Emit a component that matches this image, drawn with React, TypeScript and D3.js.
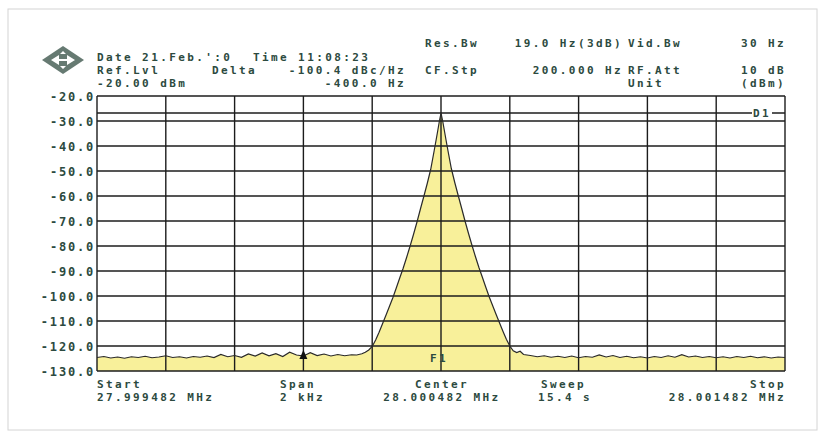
import React from 'react'
import * as d3 from 'd3'

// offsets from the centre frequency (Hz) and level (dBm)
const noiseLeft: [number, number][] = [
  [-1000, -124.6], [-980, -124.2], [-960, -124.8], [-940, -124.4], [-920, -124.9],
  [-900, -124.3], [-880, -124.6], [-860, -124.1], [-840, -124.7], [-820, -124.4],
  [-800, -123.9], [-780, -124.6], [-760, -124.3], [-740, -124.8], [-720, -124.2],
  [-700, -124.5], [-680, -124.0], [-660, -124.6], [-640, -123.4], [-620, -124.3],
  [-600, -123.8], [-580, -124.5], [-560, -123.2], [-540, -124.0], [-520, -122.8],
  [-500, -123.9], [-480, -123.1], [-460, -124.2], [-440, -122.5], [-420, -123.6],
  [-400, -124.0], [-380, -122.7], [-360, -123.8], [-340, -123.2], [-320, -124.0],
  [-300, -123.4], [-280, -123.9], [-260, -123.5],
]

const peak: [number, number][] = [
  [-245, -123.6], [-230, -123.1], [-220, -122.5], [-210, -121.6], [-200, -120.2],
  [-190, -117.6], [-180, -114.5], [-170, -111.1], [-160, -107.7], [-150, -104.2],
  [-140, -100.7], [-130, -96.8], [-120, -92.8], [-110, -88.9], [-100, -84.6],
  [-90, -80.1], [-80, -75.4], [-70, -70.5], [-60, -65.3], [-50, -60.2],
  [-40, -55.0], [-30, -49.4], [-20, -42.0], [-15, -38.2], [-10, -34.3],
  [-5, -30.3], [0, -26.8], [5, -30.1], [10, -34.0], [15, -37.9],
  [20, -41.7], [30, -49.0], [40, -54.6], [50, -59.8], [60, -64.9],
  [70, -70.1], [80, -75.0], [90, -79.7], [100, -84.2], [110, -88.5],
  [120, -92.4], [130, -96.4], [140, -100.3], [150, -103.8], [160, -107.3],
  [170, -110.7], [180, -114.1], [190, -117.3], [200, -120.0], [210, -121.9],
  [220, -122.6], [230, -122.1], [240, -123.4],
]

const noiseRight: [number, number][] = [
  [260, -123.8], [280, -124.3], [300, -123.9], [320, -124.5], [340, -124.1],
  [360, -124.6], [380, -124.0], [400, -124.7], [420, -124.2], [440, -124.5],
  [460, -123.6], [480, -124.4], [500, -123.8], [520, -124.6], [540, -124.1],
  [560, -124.7], [580, -124.3], [600, -124.8], [620, -124.2], [640, -124.6],
  [660, -123.9], [680, -124.5], [700, -123.5], [720, -124.4], [740, -124.0],
  [760, -124.6], [780, -124.2], [800, -124.7], [820, -124.3], [840, -124.8],
  [860, -124.2], [880, -124.6], [900, -124.1], [920, -124.7], [940, -124.3],
  [960, -124.8], [980, -124.4], [1000, -124.6],
]

const trace = [...noiseLeft, ...peak, ...noiseRight]

const xGridHz = [-1000, -800, -600, -400, -200, 0, 200, 400, 600, 800, 1000]
const yTicks = [-20, -30, -40, -50, -60, -70, -80, -90, -100, -110, -120, -130]
const yTickLabels = ['-20.0', '-30.0', '-40.0', '-50.0', '-60.0', '-70.0', '-80.0', '-90.0', '-100.0', '-110.0', '-120.0', '-130.0']
const displayLine = -26.8
const deltaMarkerHz = -400
const deltaMarkerDb = -124.0

const W = 825
const H = 438

export default function App() {
  const x = d3.scaleLinear().domain([-1000, 1000]).range([97, 785])
  const y = d3.scaleLinear().domain([-130, -20]).range([371, 96])

  const line = d3.line<[number, number]>().x(d => x(d[0])).y(d => y(d[1]))
  const area = d3.area<[number, number]>().x(d => x(d[0])).y0(y(-130)).y1(d => y(d[1]))

  const ink = '#2c4a40'
  const font = {
    fontFamily: '"DejaVu Sans Mono", monospace',
    fontWeight: 'bold' as const,
    fontSize: 11,
    letterSpacing: 2.4,
    fill: ink,
  }
  const axisFont = { ...font, fontSize: 12, letterSpacing: 1.8 }

  const mx = x(deltaMarkerHz)
  const my = y(deltaMarkerDb)

  return (
    <svg width={W} height={H} style={{ position: 'absolute', left: 0, top: 0, background: '#fff' }}>
      <rect x={0} y={0} width={W} height={H} fill="#fff" />
      <rect x={8} y={9} width={809} height={421} fill="none" stroke="#d4d4d4" strokeWidth={1} />

      {/* logo */}
      <g transform="translate(63,60)">
        <polygon points="-21,0 0,-14 21,0 0,14" fill="#667a72" />
        <path d="M-12,0 L-4,-5 L-4,-1 L4,-1 L4,-5 L12,0 L4,5 L4,1 L-4,1 L-4,5 Z" fill="#fff" />
        <path d="M0,-9 L3,-6 L-3,-6 Z M0,9 L3,6 L-3,6 Z" fill="#fff" />
      </g>

      {/* header */}
      <g style={font}>
        <text x={97} y={61}>Date 21.Feb.':0</text>
        <text x={253} y={61}>Time 11:08:23</text>
        <text x={97} y={74}>Ref.Lvl</text>
        <text x={212} y={74}>Delta</text>
        <text x={406} y={74} textAnchor="end">-100.4 dBc/Hz</text>
        <text x={97} y={87}>-20.00 dBm</text>
        <text x={406} y={87} textAnchor="end">-400.0 Hz</text>

        <text x={425} y={47}>Res.Bw</text>
        <text x={623} y={47} textAnchor="end">19.0 Hz(3dB)</text>
        <text x={628} y={47}>Vid.Bw</text>
        <text x={786} y={47} textAnchor="end">30 Hz</text>
        <text x={425} y={74}>CF.Stp</text>
        <text x={623} y={74} textAnchor="end">200.000 Hz</text>
        <text x={628} y={74}>RF.Att</text>
        <text x={786} y={74} textAnchor="end">10 dB</text>
        <text x={628} y={87}>Unit</text>
        <text x={786} y={87} textAnchor="end">(dBm)</text>
      </g>

      {/* trace fill */}
      <path d={area(trace) ?? ''} fill="#f8f09a" />

      {/* grid */}
      <g stroke="#1c1c1c" strokeWidth={1.4}>
        {xGridHz.map(f => (
          <line key={f} x1={x(f)} x2={x(f)} y1={y(-20)} y2={y(-130)} />
        ))}
        {yTicks.map(v => (
          <line key={v} x1={x(-1000)} x2={x(1000)} y1={y(v)} y2={y(v)} />
        ))}
        <line x1={x(-1000)} x2={x(1000)} y1={y(displayLine)} y2={y(displayLine)} />
      </g>

      <path d={line(trace) ?? ''} fill="none" stroke="#2a2a2a" strokeWidth={1.2} />

      {/* D1 label */}
      <rect x={752} y={y(displayLine) - 6} width={20} height={12} fill="#fff" />
      <text x={753} y={y(displayLine) + 4} style={font}>D1</text>

      {/* F1 label */}
      <text x={430} y={362} style={font}>F1</text>

      {/* delta marker */}
      <polygon points={`${mx},${my - 6} ${mx - 4},${my + 3} ${mx + 4},${my + 3}`} fill="#111" />

      {/* y labels */}
      <g style={axisFont}>
        {yTicks.map((v, i) => (
          <text key={v} x={95} y={y(v) + 4.5} textAnchor="end">{yTickLabels[i]}</text>
        ))}
      </g>

      {/* footer */}
      <g style={font}>
        <text x={97} y={388}>Start</text>
        <text x={97} y={401}>27.999482 MHz</text>
        <text x={280} y={388}>Span</text>
        <text x={280} y={401}>2 kHz</text>
        <text x={442} y={388} textAnchor="middle">Center</text>
        <text x={442} y={401} textAnchor="middle">28.000482 MHz</text>
        <text x={541} y={388}>Sweep</text>
        <text x={538} y={401}>15.4 s</text>
        <text x={786} y={388} textAnchor="end">Stop</text>
        <text x={786} y={401} textAnchor="end">28.001482 MHz</text>
      </g>
    </svg>
  )
}
